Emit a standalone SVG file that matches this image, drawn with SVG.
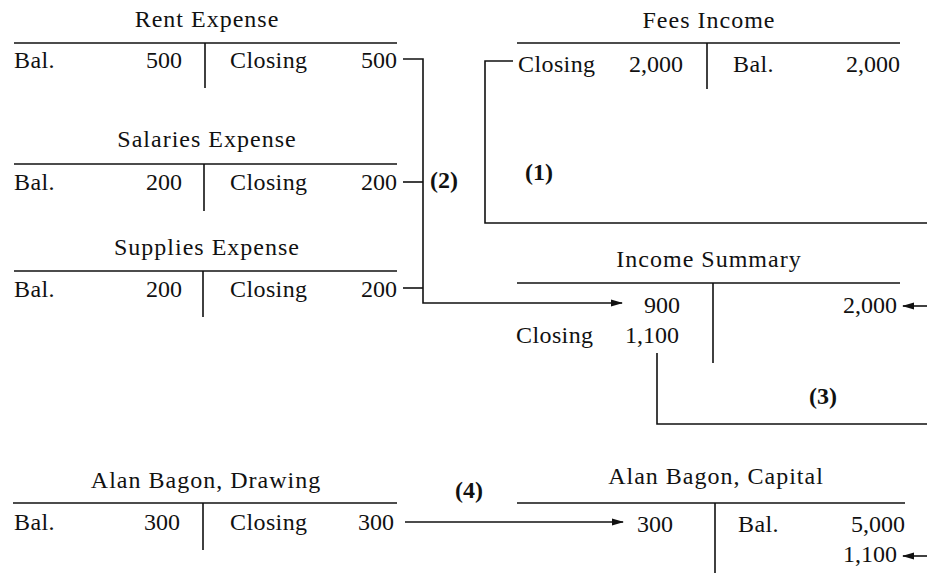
<svg xmlns="http://www.w3.org/2000/svg" width="927" height="573" viewBox="0 0 927 573">
<style>
text{font-family:"Liberation Serif","Times New Roman",serif;font-size:24px;fill:#111;letter-spacing:0.4px}
.t{text-anchor:middle;letter-spacing:1px}
.n{text-anchor:end;letter-spacing:0}
.b{font-weight:bold;letter-spacing:0}
line,polyline{stroke:#111;stroke-width:1.6;fill:none}
</style>
<defs>
<marker id="ah" markerWidth="12" markerHeight="8" refX="11" refY="4" orient="auto" markerUnits="userSpaceOnUse">
<path d="M0,0.5 L12,4 L0,7.5 Z" fill="#111"/>
</marker>
</defs>
<rect width="927" height="573" fill="#fff"/>

<g id="rent-expense">
<text class="t" x="207" y="27">Rent Expense</text>
<line x1="14" y1="43" x2="397" y2="43"/>
<line x1="205" y1="43" x2="205" y2="88"/>
<text x="14" y="68">Bal.</text>
<text class="n" x="182" y="68">500</text>
<text x="230" y="68">Closing</text>
<text class="n" x="397" y="68">500</text>
</g>

<g id="salaries-expense">
<text class="t" x="207" y="147">Salaries Expense</text>
<line x1="14" y1="164" x2="397" y2="164"/>
<line x1="204" y1="164" x2="204" y2="211"/>
<text x="14" y="190">Bal.</text>
<text class="n" x="182" y="190">200</text>
<text x="230" y="190">Closing</text>
<text class="n" x="397" y="190">200</text>
</g>

<g id="supplies-expense">
<text class="t" x="207" y="255">Supplies Expense</text>
<line x1="14" y1="271" x2="397" y2="271"/>
<line x1="203" y1="271" x2="203" y2="317"/>
<text x="14" y="297">Bal.</text>
<text class="n" x="182" y="297">200</text>
<text x="230" y="297">Closing</text>
<text class="n" x="397" y="297">200</text>
</g>

<g id="fees-income">
<text class="t" x="709" y="28">Fees Income</text>
<line x1="517" y1="43" x2="900" y2="43"/>
<line x1="707" y1="43" x2="707" y2="89"/>
<text x="518" y="72">Closing</text>
<text class="n" x="683" y="72">2,000</text>
<text x="733" y="72">Bal.</text>
<text class="n" x="900" y="72">2,000</text>
</g>

<g id="income-summary">
<text class="t" x="709" y="267">Income Summary</text>
<line x1="517" y1="283" x2="900" y2="283"/>
<line x1="713" y1="283" x2="713" y2="363"/>
<text class="n" x="680" y="313">900</text>
<text class="n" x="897" y="313">2,000</text>
<text x="516" y="343">Closing</text>
<text class="n" x="679" y="343">1,100</text>
</g>

<g id="drawing">
<text class="t" x="206" y="488">Alan Bagon, Drawing</text>
<line x1="13" y1="503" x2="397" y2="503"/>
<line x1="203" y1="503" x2="203" y2="550"/>
<text x="14" y="530">Bal.</text>
<text class="n" x="180" y="530">300</text>
<text x="230" y="530">Closing</text>
<text class="n" x="394" y="530">300</text>
</g>

<g id="capital">
<text class="t" x="716" y="484">Alan Bagon, Capital</text>
<line x1="517" y1="503" x2="905" y2="503"/>
<line x1="715" y1="503" x2="715" y2="573"/>
<text class="n" x="673" y="532">300</text>
<text x="738" y="532">Bal.</text>
<text class="n" x="905" y="532">5,000</text>
<text class="n" x="897" y="562">1,100</text>
</g>

<g id="connectors">
<polyline points="403,59 423,59 423,303 622,303" marker-end="url(#ah)"/>
<line x1="403" y1="182" x2="423" y2="182"/>
<line x1="403" y1="288" x2="423" y2="288"/>
<text class="b" x="430" y="188">(2)</text>
<polyline points="513,61 485,61 485,223 927,223"/>
<text class="b" x="525" y="180">(1)</text>
<line x1="927" y1="306" x2="903" y2="306" marker-end="url(#ah)"/>
<polyline points="657,353 657,424 927,424"/>
<text class="b" x="809" y="404">(3)</text>
<line x1="927" y1="556" x2="903" y2="556" marker-end="url(#ah)"/>
<line x1="405" y1="522" x2="623" y2="522" marker-end="url(#ah)"/>
<text class="b" x="455" y="498">(4)</text>
</g>
</svg>
